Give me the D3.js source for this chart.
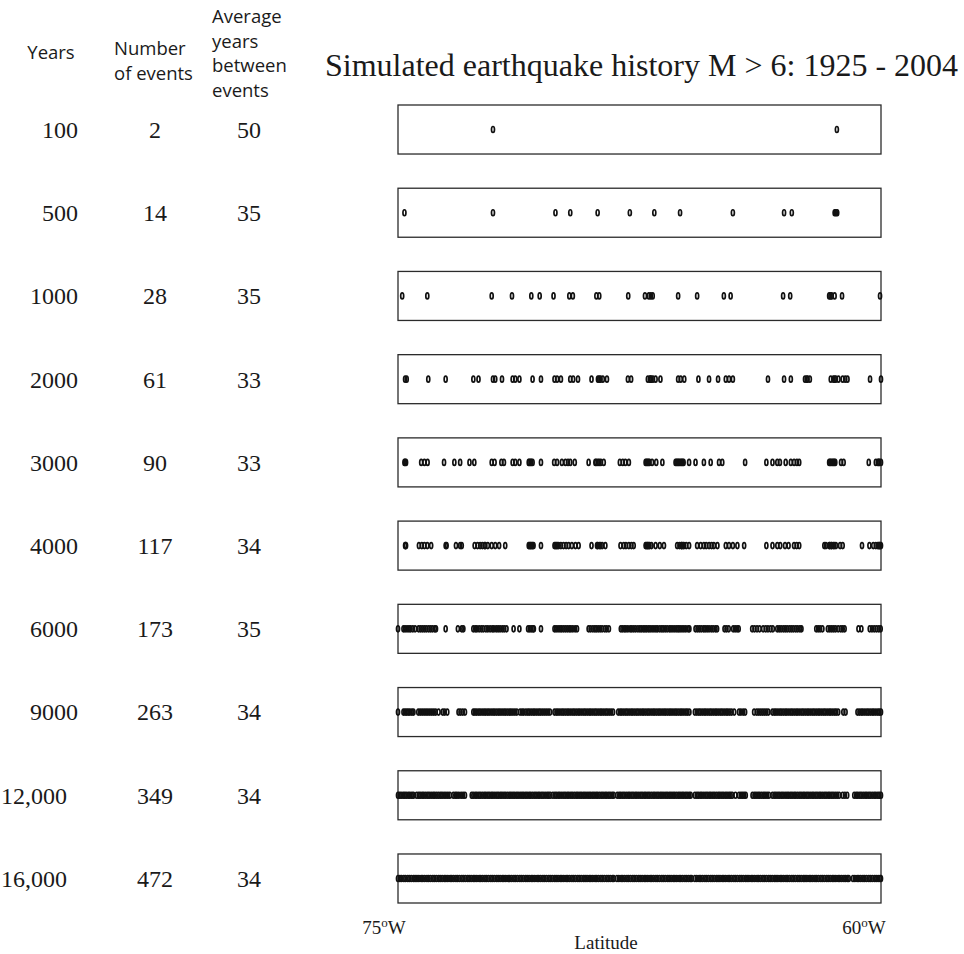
<!DOCTYPE html>
<html>
<head>
<meta charset="utf-8">
<script src="https://cdn.jsdelivr.net/npm/d3@7"></script>
<style>
  body { margin: 0; background: #fff; }
  .serif { font-family: "Liberation Serif", "Times New Roman", serif; fill: #1a1a1a; }
  .sans { font-family: "Open Sans", "Noto Sans", sans-serif; fill: #1a1a1a; }
</style>
</head>
<body>
<div id="chart"></div>
<script>
// table columns
var yearsLabels = ["100", "500", "1000", "2000", "3000", "4000", "6000", "9000", "12,000", "16,000"]
var eventCounts = [2, 14, 28, 61, 90, 117, 173, 263, 349, 472]
var avgYears = [50, 35, 35, 33, 33, 34, 35, 34, 34, 34]

// event longitudes (degrees W), one list per simulated history length
var ev100 = [72.05, 61.37]
var ev500 = [74.80, 72.05, 70.11, 69.65, 68.80, 67.80, 67.04, 66.24, 64.60, 63.01, 62.77, 61.44, 61.40, 61.36]
var ev1000 = [74.87, 74.09, 72.09, 71.46, 70.86, 70.60, 70.17, 69.68, 69.57, 68.84, 68.75, 67.85, 67.33, 67.21,
  67.15, 67.09, 66.30, 65.71, 64.88, 64.67, 63.04, 62.82, 61.61, 61.57, 61.53, 61.44, 61.21, 60.03]
var ev2000 = [74.78, 74.73, 74.06, 73.52, 72.66, 72.50, 72.05, 71.98, 71.77, 71.44, 71.36, 71.23, 70.82, 70.56,
  70.14, 70.06, 69.94, 69.65, 69.56, 69.41, 68.99, 68.79, 68.75, 68.71, 68.64, 68.51, 67.86, 67.76, 67.24, 67.18,
  67.16, 67.13, 67.08, 67.00, 66.85, 66.30, 66.22, 66.11, 65.67, 65.34, 65.06, 64.82, 64.72, 64.60, 63.51, 63.01,
  62.80, 62.36, 62.31, 62.28, 62.21, 61.56, 61.48, 61.44, 61.40, 61.32, 61.19, 61.11, 61.04, 60.34, 60.00]
var ev3000 = [74.80, 74.78, 74.75, 74.28, 74.18, 74.08, 73.57, 73.25, 73.07, 72.78, 72.63, 72.09, 72.00, 71.79,
  71.71, 71.44, 71.36, 71.23, 70.94, 70.92, 70.88, 70.86, 70.82, 70.56, 70.15, 70.06, 69.91, 69.80, 69.72, 69.65,
  69.51, 69.08, 68.87, 68.84, 68.79, 68.75, 68.70, 68.61, 68.11, 68.02, 67.94, 67.83, 67.31, 67.28, 67.25, 67.22,
  67.19, 67.11, 66.98, 66.79, 66.38, 66.35, 66.32, 66.29, 66.26, 66.22, 66.19, 66.16, 66.13, 65.96, 65.76, 65.50,
  65.29, 65.03, 64.93, 64.22, 63.56, 63.37, 63.22, 63.14, 62.96, 62.80, 62.70, 62.61, 62.54, 61.61, 61.58, 61.55,
  61.51, 61.48, 61.45, 61.42, 61.24, 61.16, 60.38, 60.16, 60.10, 60.07, 60.05, 60.00]
var ev4000 = [74.78, 74.77, 74.75, 74.35, 74.26, 74.18, 74.09, 73.97, 73.52, 73.49, 73.20, 73.07, 73.02, 72.62,
  72.53, 72.45, 72.38, 72.31, 72.29, 72.21, 72.09, 71.98, 71.86, 71.67, 70.94, 70.92, 70.89, 70.87, 70.84, 70.82,
  70.79, 70.56, 70.14, 70.11, 70.08, 70.05, 70.01, 69.94, 69.86, 69.78, 69.70, 69.60, 69.49, 69.39, 68.99, 68.82,
  68.80, 68.75, 68.71, 68.66, 68.56, 68.09, 67.99, 67.92, 67.83, 67.75, 67.68, 67.31, 67.29, 67.26, 67.24, 67.21,
  67.19, 67.13, 67.00, 66.87, 66.74, 66.33, 66.26, 66.20, 66.19, 66.15, 66.12, 66.05, 65.96, 65.71, 65.60, 65.50,
  65.43, 65.34, 65.26, 65.19, 65.08, 64.82, 64.72, 64.60, 64.46, 64.25, 63.56, 63.37, 63.22, 63.13, 62.98, 62.87,
  62.70, 62.62, 62.54, 61.76, 61.71, 61.61, 61.59, 61.55, 61.53, 61.48, 61.45, 61.40, 61.27, 61.19, 60.59, 60.36,
  60.24, 60.16, 60.10, 60.07, 60.05, 60.03, 60.00]
var ev6000 = [75.00, 74.83, 74.78, 74.72, 74.66, 74.61, 74.54, 74.47, 74.36, 74.30, 74.24, 74.18, 74.12, 74.05,
  73.99, 73.93, 73.86, 73.82, 73.52, 73.14, 73.02, 72.97, 72.66, 72.60, 72.55, 72.48, 72.41, 72.35, 72.27, 72.21,
  72.14, 72.07, 72.02, 71.95, 71.89, 71.83, 71.76, 71.70, 71.63, 71.41, 71.23, 70.96, 70.91, 70.86, 70.81, 70.78,
  70.56, 70.14, 70.09, 70.03, 69.97, 69.92, 69.86, 69.80, 69.74, 69.68, 69.63, 69.57, 69.50, 69.44, 69.08, 69.02,
  68.95, 68.89, 68.84, 68.78, 68.72, 68.66, 68.58, 68.52, 68.45, 68.08, 68.03, 67.97, 67.92, 67.86, 67.79, 67.74,
  67.68, 67.62, 67.55, 67.49, 67.44, 67.38, 67.33, 67.28, 67.22, 67.17, 67.11, 67.05, 66.99, 66.94, 66.87, 66.81,
  66.76, 66.70, 66.64, 66.57, 66.52, 66.46, 66.40, 66.34, 66.29, 66.24, 66.18, 66.12, 66.06, 65.99, 65.95, 65.76,
  65.70, 65.64, 65.58, 65.51, 65.46, 65.40, 65.34, 65.27, 65.21, 65.14, 65.09, 64.86, 64.80, 64.73, 64.59, 64.53,
  64.47, 64.42, 64.00, 63.93, 63.85, 63.77, 63.66, 63.58, 63.51, 63.43, 63.36, 63.22, 63.16, 63.10, 63.03, 62.97,
  62.91, 62.84, 62.78, 62.72, 62.65, 62.59, 62.52, 62.47, 62.01, 61.95, 61.89, 61.82, 61.65, 61.59, 61.53, 61.47,
  61.41, 61.33, 61.25, 61.19, 61.13, 60.70, 60.61, 60.35, 60.28, 60.21, 60.14, 60.07, 60.01]
var ev9000 = [75.00, 74.83, 74.78, 74.73, 74.68, 74.63, 74.57, 74.52, 74.37, 74.31, 74.25, 74.19, 74.13, 74.07,
  74.01, 73.95, 73.89, 73.83, 73.74, 73.61, 73.55, 73.47, 73.12, 73.06, 72.99, 72.92, 72.66, 72.61, 72.56, 72.50,
  72.45, 72.39, 72.33, 72.28, 72.22, 72.17, 72.11, 72.05, 72.00, 71.94, 71.88, 71.83, 71.77, 71.71, 71.66, 71.60,
  71.54, 71.49, 71.43, 71.37, 71.31, 71.21, 71.15, 71.10, 71.03, 70.97, 70.92, 70.86, 70.80, 70.75, 70.69, 70.63,
  70.58, 70.52, 70.46, 70.40, 70.34, 70.28, 70.14, 70.08, 70.03, 69.97, 69.91, 69.86, 69.80, 69.74, 69.69, 69.63,
  69.57, 69.52, 69.46, 69.40, 69.35, 69.29, 69.23, 69.18, 69.12, 69.06, 69.01, 68.95, 68.89, 68.84, 68.78, 68.72,
  68.67, 68.61, 68.55, 68.50, 68.44, 68.38, 68.32, 68.16, 68.10, 68.05, 67.99, 67.93, 67.88, 67.82, 67.76, 67.71,
  67.65, 67.59, 67.54, 67.48, 67.42, 67.37, 67.31, 67.25, 67.20, 67.14, 67.08, 67.03, 66.97, 66.91, 66.86, 66.80,
  66.74, 66.69, 66.63, 66.57, 66.52, 66.46, 66.40, 66.35, 66.29, 66.23, 66.18, 66.12, 66.06, 66.01, 65.95, 65.78,
  65.72, 65.66, 65.61, 65.55, 65.49, 65.44, 65.38, 65.32, 65.27, 65.21, 65.15, 65.10, 65.04, 64.98, 64.93, 64.87,
  64.81, 64.76, 64.70, 64.64, 64.56, 64.41, 64.35, 64.28, 64.22, 63.94, 63.86, 63.80, 63.74, 63.68, 63.62, 63.56,
  63.50, 63.37, 63.31, 63.26, 63.20, 63.14, 63.09, 63.03, 62.97, 62.92, 62.86, 62.80, 62.75, 62.69, 62.63, 62.58,
  62.52, 62.46, 62.41, 62.35, 62.29, 62.24, 62.18, 62.12, 62.07, 62.01, 61.95, 61.90, 61.84, 61.78, 61.73, 61.67,
  61.61, 61.56, 61.50, 61.44, 61.39, 61.33, 61.17, 61.10, 60.73, 60.67, 60.61, 60.56, 60.50, 60.44, 60.39, 60.33,
  60.27, 60.22, 60.16, 60.10, 60.05, 60.00]
var ev12000 = [75.00, 74.95, 74.90, 74.84, 74.79, 74.74, 74.68, 74.63, 74.57, 74.52, 74.42, 74.36, 74.31, 74.25,
  74.20, 74.14, 74.08, 74.03, 73.97, 73.91, 73.86, 73.80, 73.74, 73.68, 73.63, 73.57, 73.51, 73.45, 73.39, 73.28,
  73.22, 73.17, 73.11, 73.04, 72.98, 72.92, 72.71, 72.66, 72.60, 72.55, 72.49, 72.44, 72.38, 72.32, 72.27, 72.21,
  72.16, 72.10, 72.05, 71.99, 71.93, 71.88, 71.82, 71.77, 71.71, 71.66, 71.60, 71.54, 71.49, 71.43, 71.38, 71.32,
  71.27, 71.21, 71.15, 71.10, 71.04, 70.99, 70.93, 70.88, 70.82, 70.76, 70.71, 70.65, 70.60, 70.54, 70.49, 70.43,
  70.37, 70.32, 70.27, 70.19, 70.13, 70.08, 70.02, 69.97, 69.91, 69.85, 69.80, 69.74, 69.69, 69.63, 69.58, 69.52,
  69.46, 69.41, 69.35, 69.30, 69.24, 69.19, 69.13, 69.07, 69.02, 68.96, 68.91, 68.85, 68.80, 68.74, 68.68, 68.63,
  68.57, 68.52, 68.46, 68.41, 68.35, 68.30, 68.19, 68.13, 68.08, 68.02, 67.97, 67.91, 67.85, 67.80, 67.74, 67.69,
  67.63, 67.58, 67.52, 67.46, 67.41, 67.35, 67.30, 67.24, 67.19, 67.13, 67.07, 67.02, 66.96, 66.91, 66.85, 66.80,
  66.74, 66.68, 66.63, 66.57, 66.52, 66.46, 66.41, 66.35, 66.29, 66.24, 66.18, 66.13, 66.07, 66.02, 65.96, 65.91,
  65.78, 65.72, 65.67, 65.61, 65.56, 65.50, 65.44, 65.39, 65.33, 65.28, 65.22, 65.17, 65.11, 65.05, 65.00, 64.94,
  64.89, 64.83, 64.78, 64.72, 64.67, 64.62, 64.52, 64.41, 64.35, 64.30, 64.25, 64.20, 63.99, 63.93, 63.88, 63.82,
  63.77, 63.71, 63.65, 63.60, 63.54, 63.48, 63.37, 63.31, 63.26, 63.20, 63.15, 63.09, 63.04, 62.98, 62.92, 62.87,
  62.81, 62.76, 62.70, 62.65, 62.59, 62.53, 62.48, 62.42, 62.37, 62.31, 62.26, 62.20, 62.14, 62.09, 62.03, 61.98,
  61.92, 61.87, 61.81, 61.75, 61.70, 61.64, 61.59, 61.53, 61.48, 61.42, 61.36, 61.30, 61.19, 61.12, 61.05, 60.83,
  60.77, 60.72, 60.66, 60.61, 60.55, 60.49, 60.44, 60.38, 60.33, 60.27, 60.21, 60.16, 60.10, 60.05, 60.00]
var ev16000 = [75.00, 74.94, 74.89, 74.82, 74.77, 74.70, 74.65, 74.59, 74.52, 74.47, 74.41, 74.35, 74.28, 74.23,
  74.17, 74.10, 74.05, 73.99, 73.92, 73.87, 73.81, 73.74, 73.69, 73.63, 73.56, 73.51, 73.45, 73.38, 73.33, 73.27,
  73.20, 73.15, 73.09, 73.02, 72.97, 72.91, 72.84, 72.79, 72.73, 72.66, 72.61, 72.55, 72.48, 72.43, 72.37, 72.30,
  72.25, 72.19, 72.12, 72.07, 72.01, 71.94, 71.89, 71.83, 71.76, 71.71, 71.65, 71.58, 71.53, 71.47, 71.40, 71.35,
  71.29, 71.22, 71.17, 71.11, 71.04, 70.99, 70.93, 70.86, 70.81, 70.75, 70.68, 70.63, 70.57, 70.50, 70.45, 70.39,
  70.32, 70.27, 70.21, 70.14, 70.09, 70.03, 69.96, 69.91, 69.85, 69.78, 69.73, 69.67, 69.60, 69.55, 69.49, 69.42,
  69.37, 69.31, 69.24, 69.19, 69.13, 69.06, 69.01, 68.95, 68.88, 68.83, 68.77, 68.70, 68.65, 68.59, 68.52, 68.47,
  68.41, 68.34, 68.30, 68.20, 68.14, 68.07, 68.02, 67.96, 67.89, 67.84, 67.78, 67.71, 67.66, 67.60, 67.53, 67.48,
  67.42, 67.35, 67.30, 67.24, 67.17, 67.12, 67.06, 66.99, 66.94, 66.88, 66.81, 66.76, 66.70, 66.63, 66.58, 66.52,
  66.45, 66.40, 66.34, 66.27, 66.22, 66.16, 66.09, 66.04, 65.98, 65.92, 65.88, 65.78, 65.72, 65.65, 65.60, 65.54,
  65.47, 65.42, 65.36, 65.29, 65.24, 65.18, 65.11, 65.06, 65.00, 64.93, 64.88, 64.82, 64.75, 64.70, 64.64, 64.57,
  64.52, 64.46, 64.39, 64.34, 64.28, 64.21, 64.16, 64.10, 64.03, 63.98, 63.92, 63.85, 63.80, 63.74, 63.67, 63.62,
  63.56, 63.49, 63.44, 63.38, 63.31, 63.26, 63.20, 63.13, 63.08, 63.02, 62.95, 62.90, 62.84, 62.77, 62.72, 62.66,
  62.59, 62.54, 62.48, 62.41, 62.36, 62.30, 62.23, 62.18, 62.12, 62.05, 62.00, 61.94, 61.87, 61.82, 61.76, 61.69,
  61.64, 61.58, 61.51, 61.46, 61.40, 61.33, 61.28, 61.22, 61.15, 61.10, 61.04, 61.00, 60.87, 60.81, 60.74, 60.69,
  60.63, 60.56, 60.51, 60.45, 60.38, 60.33, 60.27, 60.20, 60.15, 60.09, 60.03, 60.00]

var eventLists = [ev100, ev500, ev1000, ev2000, ev3000, ev4000, ev6000, ev9000, ev12000, ev16000]

var width = 964
height = 954

var svg = d3.select("#chart")
    .append("svg")
    .attr("width", width)
    .attr("height", height)

// longitude scale: 75W on the left, 60W on the right
var x = d3.scaleLinear()
    .domain([75, 60])
    .range([398, 881])

// one band per simulated history
var y = d3.scaleBand()
    .domain(yearsLabels)
    .range([105, 903])
    .paddingInner(0.411)
    .paddingOuter(0)

var rows = svg.selectAll("g.row")
    .data(yearsLabels)
    .enter()
    .append("g")
    .attr("class", "row")
    .attr("transform", function (d) { return "translate(0," + y(d) + ")" })

rows.append("rect")
    .attr("x", x(75))
    .attr("y", 0)
    .attr("width", x(60) - x(75))
    .attr("height", y.bandwidth())
    .attr("fill", "none")
    .attr("stroke", "#2b2b2b")
    .attr("stroke-width", 1.3)

// the events, drawn as small open ellipses (overlaps pile up into dark bands)
rows.each(function (d, i) {
    d3.select(this)
        .selectAll("ellipse")
        .data(eventLists[i])
        .enter()
        .append("ellipse")
        .attr("cx", function (v) { return x(v) })
        .attr("cy", y.bandwidth() / 2)
        .attr("rx", 1.5)
        .attr("ry", 3)
        .attr("fill", "none")
        .attr("stroke", "#111")
        .attr("stroke-width", 1.7)
})

// table values
rows.append("text")
    .attr("class", "serif")
    .attr("x", function (d) { return d.length > 4 ? 67 : 78 })
    .attr("y", y.bandwidth() / 2)
    .attr("dy", "0.35em")
    .attr("text-anchor", "end")
    .style("font-size", "24px")
    .text(function (d) { return d })

rows.append("text")
    .attr("class", "serif")
    .attr("x", 155)
    .attr("y", y.bandwidth() / 2)
    .attr("dy", "0.35em")
    .attr("text-anchor", "middle")
    .style("font-size", "24px")
    .text(function (d, i) { return eventCounts[i] })

rows.append("text")
    .attr("class", "serif")
    .attr("x", 249)
    .attr("y", y.bandwidth() / 2)
    .attr("dy", "0.35em")
    .attr("text-anchor", "middle")
    .style("font-size", "24px")
    .text(function (d, i) { return avgYears[i] })

// column headers
function header(lines, xPos, yFirst, anchor) {
    svg.append("text")
        .attr("class", "sans")
        .attr("text-anchor", anchor)
        .style("font-size", "18.5px")
        .selectAll("tspan")
        .data(lines)
        .enter()
        .append("tspan")
        .attr("x", xPos)
        .attr("y", function (d, i) { return yFirst + i * 24.6 })
        .text(function (d) { return d })
}
header(["Years"], 51, 59, "middle")
header(["Number", "of events"], 114, 55, "start")
header(["Average", "years", "between", "events"], 212, 23, "start")

// title
svg.append("text")
    .attr("class", "serif")
    .attr("x", 325)
    .attr("y", 76)
    .style("font-size", "32px")
    .text("Simulated earthquake history M > 6: 1925 - 2004")

// longitude labels
function lonLabel(deg, xPos) {
    var t = svg.append("text")
        .attr("class", "serif")
        .attr("x", xPos)
        .attr("y", 934)
        .attr("text-anchor", "middle")
        .style("font-size", "19px")
    t.append("tspan").text(deg)
    t.append("tspan").attr("dy", -7).style("font-size", "13px").text("o")
    t.append("tspan").attr("dy", 7).text("W")
}
lonLabel("75", x(75) - 14)
lonLabel("60", x(60) - 17)

svg.append("text")
    .attr("class", "serif")
    .attr("x", 606)
    .attr("y", 949)
    .attr("text-anchor", "middle")
    .style("font-size", "19px")
    .text("Latitude")
</script>
</body>
</html>
